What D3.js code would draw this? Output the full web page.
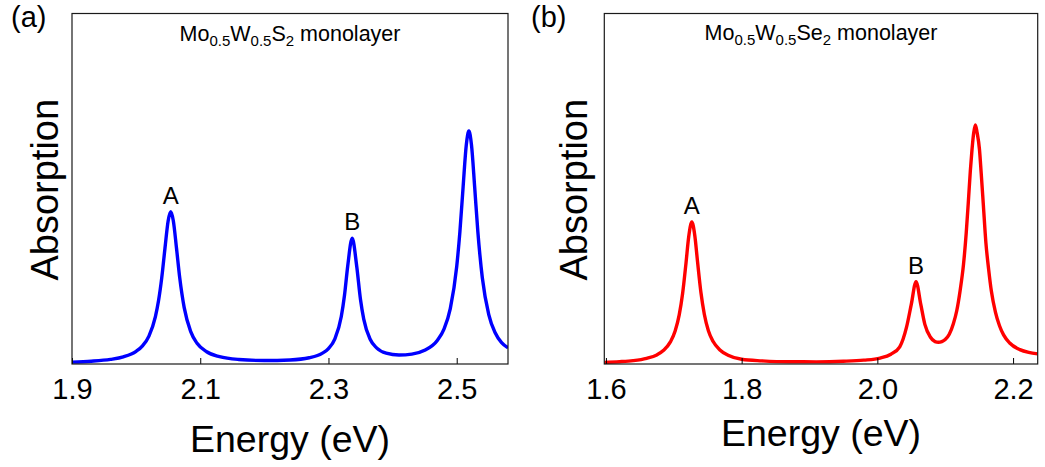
<!DOCTYPE html>
<html lang="en">
<head>
<meta charset="utf-8">
<title>Absorption spectra</title>
<script src="https://cdn.jsdelivr.net/npm/d3@7"></script>
<style>
  body { margin: 0; background: #fff; }
  svg text { font-family: "Liberation Sans", Arial, sans-serif; fill: #000; }
  .tick text { font-size: 29px; }
</style>
</head>
<body>
<svg id="chart" width="1045" height="467"></svg>
<script>
// panel (a): Mo0.5W0.5S2
const energyS = [1.90, 1.93, 1.96, 1.98, 2.00, 2.01, 2.02, 2.03, 2.035, 2.04, 2.045, 2.05, 2.054, 2.058, 2.063, 2.068,
  2.075, 2.085, 2.095, 2.11, 2.13, 2.16, 2.20, 2.24, 2.27, 2.29, 2.30, 2.31, 2.32, 2.325, 2.33, 2.337, 2.344, 2.35,
  2.355, 2.365, 2.375, 2.39, 2.41, 2.43, 2.45, 2.47, 2.48, 2.49, 2.50, 2.505, 2.51, 2.515, 2.519, 2.523, 2.528,
  2.533, 2.54, 2.55, 2.56, 2.57, 2.58];
const absorbS = [0.0054, 0.0080, 0.0132, 0.0204, 0.0361, 0.0518, 0.0797, 0.1344, 0.1809, 0.2464, 0.3301, 0.4087, 0.4342, 0.4087, 0.3301, 0.2464,
  0.1607, 0.0930, 0.0592, 0.0349, 0.0209, 0.0129, 0.0100, 0.0116, 0.0179, 0.0302, 0.0441, 0.0718, 0.1357, 0.1961, 0.2791, 0.3586, 0.2797, 0.1832,
  0.1282, 0.0706, 0.0460, 0.0309, 0.0256, 0.0282, 0.0391, 0.0678, 0.0990, 0.1578, 0.2779, 0.3776, 0.5056, 0.626, 0.665, 0.626, 0.5054,
  0.3773, 0.2452, 0.1410, 0.0890, 0.0607, 0.046];
const ticksS = [1.9, 2.1, 2.3, 2.5];
const peakNamesS = ["A", "B"];
const peakEnergyS = [2.054, 2.337];
const peakValueS = [0.4342, 0.3586];

// panel (b): Mo0.5W0.5Se2
const energySe = [1.5976, 1.62, 1.64, 1.66, 1.675, 1.685, 1.695, 1.702, 1.708, 1.713, 1.718, 1.722, 1.7266, 1.731, 1.735,
  1.74, 1.745, 1.751, 1.758, 1.768, 1.78, 1.80, 1.83, 1.87, 1.91, 1.95, 1.98, 2.004, 2.02, 2.033, 2.043, 2.05, 2.057,
  2.064, 2.07, 2.078, 2.085, 2.09, 2.095, 2.10, 2.106, 2.112, 2.117, 2.122, 2.127, 2.131, 2.134, 2.137, 2.1395, 2.142,
  2.1445, 2.147, 2.1505, 2.153, 2.156, 2.16, 2.164, 2.168, 2.174, 2.18, 2.186, 2.195, 2.21, 2.223, 2.2363];
const absorbSe = [0.0045, 0.0066, 0.0097, 0.0163, 0.026, 0.039, 0.063, 0.094, 0.14, 0.201, 0.288, 0.363, 0.405, 0.366, 0.292,
  0.204, 0.142, 0.095, 0.064, 0.040, 0.025, 0.0135, 0.009, 0.0063, 0.0062, 0.0078, 0.011, 0.017, 0.028, 0.049, 0.105, 0.17, 0.235,
  0.17, 0.113, 0.077, 0.064, 0.062, 0.064, 0.070, 0.085, 0.115, 0.152, 0.21, 0.285, 0.375, 0.46, 0.55, 0.612, 0.66,
  0.682, 0.66, 0.612, 0.545, 0.46, 0.345, 0.27, 0.208, 0.148, 0.109, 0.083, 0.06, 0.041, 0.033, 0.029];
const ticksSe = [1.6, 1.8, 2.0, 2.2];
const peakNamesSe = ["A", "B"];
const peakEnergySe = [1.7266, 2.057];
const peakValueSe = [0.405, 0.235];

const svg = d3.select("#chart");

function drawPanel(p) {
  const x = d3.scaleLinear().domain(p.domain).range([p.left, p.right]);
  const y = d3.scaleLinear().domain([0, 1]).range([p.bottom, p.top]);

  const g = svg.append("g");
  const clipId = "clip-" + p.tag;
  g.append("clipPath").attr("id", clipId)
    .append("rect")
    .attr("x", p.left).attr("y", p.top)
    .attr("width", p.right - p.left).attr("height", p.bottom - p.top);

  const pts = p.energy.map((e, i) => [e, p.absorb[i]]);
  const line = d3.line()
    .x(d => x(d[0]))
    .y(d => y(d[1]))
    .curve(d3.curveMonotoneX);

  g.append("path")
    .datum(pts)
    .attr("clip-path", "url(#" + clipId + ")")
    .attr("d", line)
    .attr("fill", "none")
    .attr("stroke", p.color)
    .attr("stroke-width", 3.4)
    .attr("stroke-linejoin", "round");

  const xAxis = d3.axisBottom(x)
    .tickValues(p.ticks)
    .tickSizeInner(-6)
    .tickSizeOuter(0)
    .tickPadding(14.5)
    .tickFormat(d3.format(".1f"));
  const ax = g.append("g")
    .attr("transform", "translate(0," + p.bottom + ")")
    .call(xAxis);
  ax.select(".domain").remove();
  ax.selectAll(".tick line").attr("stroke", "#000");

  g.append("rect")
    .attr("x", p.left).attr("y", p.top)
    .attr("width", p.right - p.left).attr("height", p.bottom - p.top)
    .attr("fill", "none")
    .attr("stroke", "#1a1a1a")
    .attr("stroke-width", 1.2);

  // peak labels
  g.selectAll(".peak")
    .data(p.names)
    .join("text")
    .attr("class", "peak")
    .attr("x", (d, i) => x(p.peakE[i]))
    .attr("y", (d, i) => y(p.peakV[i]) - 8)
    .attr("text-anchor", "middle")
    .attr("font-size", 24)
    .text(d => d);

  // title with subscripts
  const t = g.append("text")
    .attr("x", (p.left + p.right) / 2)
    .attr("y", p.titleY)
    .attr("text-anchor", "middle")
    .attr("font-size", 21.5);
  p.title.forEach(part => {
    const s = t.append("tspan").text(part[0]);
    if (part[1]) s.attr("font-size", 15).attr("dy", 5);
    else if (part[2]) s.attr("dy", -5);
  });

  g.append("text")
    .attr("x", (p.left + p.right) / 2)
    .attr("y", p.xTitleY)
    .attr("text-anchor", "middle")
    .attr("font-size", 37.5)
    .text("Energy (eV)");

  g.append("text")
    .attr("transform", "translate(" + p.yTitleX + "," + ((p.top + p.bottom) / 2 + 1) + ") rotate(-90)")
    .attr("text-anchor", "middle")
    .attr("font-size", 38)
    .text("Absorption");

  g.append("text")
    .attr("x", p.tagX)
    .attr("y", 27)
    .attr("font-size", 29)
    .text("(" + p.tag + ")");
}

drawPanel({
  tag: "a", left: 72, right: 508, top: 13.5, bottom: 364,
  domain: [1.9, 2.58], energy: energyS, absorb: absorbS, ticks: ticksS,
  names: peakNamesS, peakE: peakEnergyS, peakV: peakValueS,
  color: "#0000ff", titleY: 41, xTitleY: 452, yTitleX: 58, tagX: 11,
  title: [["Mo"], ["0.5", true], ["W", false, true], ["0.5", true], ["S", false, true], ["2", true], [" monolayer", false, true]]
});

drawPanel({
  tag: "b", left: 604.3, right: 1037.7, top: 13.5, bottom: 364,
  domain: [1.5976, 2.2363], energy: energySe, absorb: absorbSe, ticks: ticksSe,
  names: peakNamesSe, peakE: peakEnergySe, peakV: peakValueSe,
  color: "#ff0000", titleY: 40, xTitleY: 446, yTitleX: 587, tagX: 531,
  title: [["Mo"], ["0.5", true], ["W", false, true], ["0.5", true], ["Se", false, true], ["2", true], [" monolayer", false, true]]
});
</script>
</body>
</html>
